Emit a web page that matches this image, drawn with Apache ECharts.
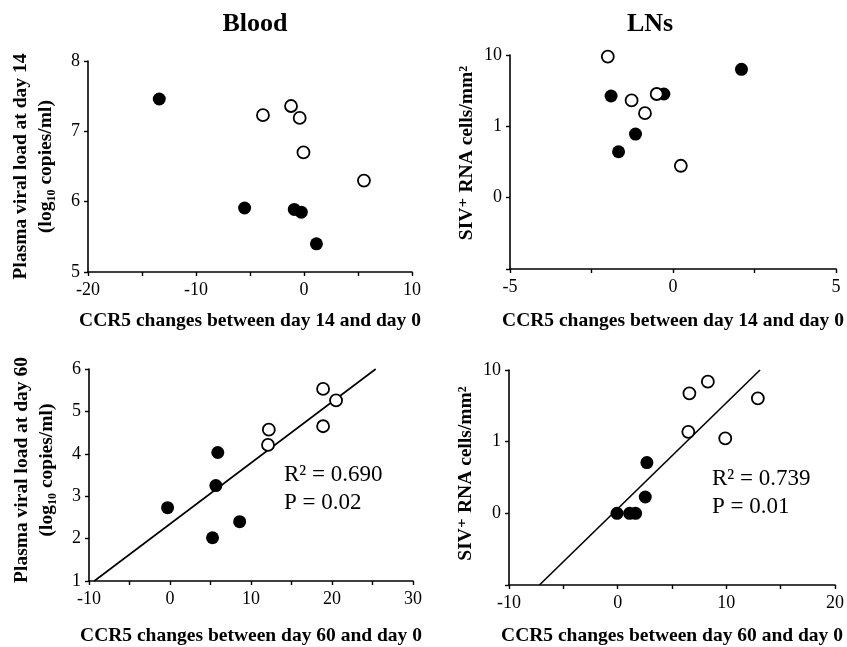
<!DOCTYPE html>
<html><head><meta charset="utf-8">
<script src="https://cdn.jsdelivr.net/npm/echarts@6/dist/echarts.min.js"></script>
<style>html,body{margin:0;padding:0;background:#fff}#c{width:847px;height:647px}</style>
</head><body><div id="c"></div>
<script>
// Panel A: Blood, day 14
const bloodD14Filled = [[-13.4,7.46],[-5.5,5.91],[-0.9,5.89],[-0.25,5.85],[1.15,5.40]];
const bloodD14Open = [[-3.8,7.23],[-1.2,7.36],[-0.4,7.19],[-0.05,6.70],[5.55,6.30]];
// Panel B: LNs, day 14 (cells/mm2, log scale)
const lnD14Filled = [[-1.9,2.66],[-0.28,2.84],[-1.15,0.78],[-1.67,0.44],[2.1,6.3]];
const lnD14Open = [[-2.0,9.5],[-1.27,2.31],[-0.86,1.53],[-0.5,2.84],[0.24,0.28]];
// Panel C: Blood, day 60
const bloodD60Filled = [[-0.3,2.73],[5.25,2.02],[5.66,3.25],[5.9,4.03],[8.6,2.40]];
const bloodD60Open = [[12.2,4.57],[12.1,4.21],[18.9,5.53],[20.5,5.26],[18.9,4.65]];
const bloodD60Fit = [[-9.35,1],[25.4,6]];
// Panel D: LNs, day 60
const lnD60Filled = [[-0.06,0.1],[1.1,0.1],[1.65,0.1],[2.54,0.169],[2.69,0.51]];
const lnD60Open = [[6.5,1.37],[6.6,4.72],[8.3,6.87],[9.9,1.11],[12.9,4.02]];
const lnD60Fit = [[-7.2,0.01],[13.1,10]];
// Titles and texts
const panelTitles = ['Blood','LNs'];
const xNames = ['CCR5 changes between day 14 and day 0','CCR5 changes between day 60 and day 0'];
const statsC = ['R\u00b2 = 0.690','P = 0.02'];
const statsD = ['R\u00b2 = 0.739','P = 0.01'];

const FONT = '"Liberation Serif", "DejaVu Serif", serif';
const NFS = 19.5;
const axisLine = {onZero:false,lineStyle:{color:'#000',width:1.6}};
const tick = {show:true,length:4,lineStyle:{color:'#000',width:1.4}};
const lbl = {color:'#000',fontFamily:FONT,fontSize:18};
function xAx(gi,min,max,interval,labelEvery,name,gap){
  return {type:'value',gridIndex:gi,min,max,interval,axisLine,axisTick:tick,splitLine:{show:false},
    axisLabel:Object.assign({},lbl,{margin:9,formatter:v=>{const k=Math.round((v-min)/interval);return k%labelEvery===0?String(v):'';}}),
    name,nameLocation:'middle',nameGap:gap,nameTextStyle:{color:'#000',fontFamily:FONT,fontSize:NFS,fontWeight:'bold'}};
}
function yAx(gi,min,max,interval,name,gap,shift){
  return {type:'value',gridIndex:gi,min,max,interval,axisLine,axisTick:tick,splitLine:{show:false},
    axisLabel:Object.assign({},lbl,{margin:8}),
    name,nameLocation:'middle',nameGap:gap,nameRotate:90,
    nameTextStyle:{color:'#000',fontFamily:FONT,fontSize:NFS,fontWeight:'bold',lineHeight:25,padding:[0,0,0,shift],
      rich:{b:{fontFamily:FONT,fontSize:NFS,fontWeight:'bold',color:'#000',lineHeight:25},
            s:{fontFamily:FONT,fontSize:12,fontWeight:'bold',color:'#000',verticalAlign:'bottom',padding:[7,0,0,0],lineHeight:25}}}};
}
function yLog(gi,gap,shift){
  return {type:'log',logBase:10,gridIndex:gi,min:0.01,max:10,axisLine,axisTick:tick,splitLine:{show:false},
    axisLabel:Object.assign({},lbl,{margin:8,formatter:v=>{const e=Math.round(Math.log10(v));return e===1?'10':e===0?'1':e===-1?'0':'';}}),
    name:'SIV\u207a RNA cells/mm\u00b2',nameLocation:'middle',nameGap:gap,nameRotate:90,
    nameTextStyle:{color:'#000',fontFamily:FONT,fontSize:NFS,fontWeight:'bold',padding:[0,0,0,shift]}};
}
const yNameBlood14 = '{b|Plasma viral load at day 14}\n{b|(log}{s|10}{b| copies/ml)}';
const yNameBlood60 = '{b|Plasma viral load at day 60}\n{b|(log}{s|10}{b| copies/ml)}';

function filled(xi,data){return {type:'scatter',xAxisIndex:xi,yAxisIndex:xi,data,symbol:'circle',symbolSize:13,itemStyle:{color:'#000',opacity:1},z:3};}
function open(xi,data){return {type:'scatter',xAxisIndex:xi,yAxisIndex:xi,data,symbol:'circle',symbolSize:12,itemStyle:{color:'#fff',borderColor:'#000',borderWidth:1.8,opacity:1},z:4};}
function fit(xi,data){return {type:'line',xAxisIndex:xi,yAxisIndex:xi,data,symbol:'none',lineStyle:{color:'#000',width:1.6},z:2};}

const chart = echarts.init(document.getElementById('c'),null,{renderer:'canvas'});
chart.setOption({
  backgroundColor:'#fff',
  animation:false,
  title:[
    {text:panelTitles[0],left:250,top:6,textAlign:'center',textStyle:{fontFamily:FONT,fontSize:26,fontWeight:'bold',color:'#000'}},
    {text:panelTitles[1],left:645,top:6,textAlign:'center',textStyle:{fontFamily:FONT,fontSize:26,fontWeight:'bold',color:'#000'}}
  ],
  grid:[
    {left:88,top:61,width:324,height:211},
    {left:510,top:55,width:326,height:214},
    {left:89,top:369,width:324,height:212},
    {left:509,top:370,width:327,height:215}
  ],
  xAxis:[
    xAx(0,-20,10,5,2,xNames[0],39),
    xAx(1,-5,5,2.5,2,xNames[0],42),
    xAx(2,-10,30,5,2,xNames[1],45),
    xAx(3,-10,20,5,2,xNames[1],41)
  ],
  yAxis:[
    yAx(0,5,8,1,yNameBlood14,30,0),
    yLog(1,33,18),
    yAx(2,1,6,1,yNameBlood60,30,10),
    yLog(3,33,8)
  ],
  graphic:[
    {type:'text',left:284,top:461,style:{text:statsC.join('\n'),font:'23px "Liberation Serif"',lineHeight:28,fill:'#000'}},
    {type:'text',left:712,top:465,style:{text:statsD.join('\n'),font:'23px "Liberation Serif"',lineHeight:28,fill:'#000'}}
  ],
  series:[
    filled(0,bloodD14Filled), open(0,bloodD14Open),
    filled(1,lnD14Filled), open(1,lnD14Open),
    fit(2,bloodD60Fit), filled(2,bloodD60Filled), open(2,bloodD60Open),
    fit(3,lnD60Fit), filled(3,lnD60Filled), open(3,lnD60Open)
  ]
});
</script></body></html>
